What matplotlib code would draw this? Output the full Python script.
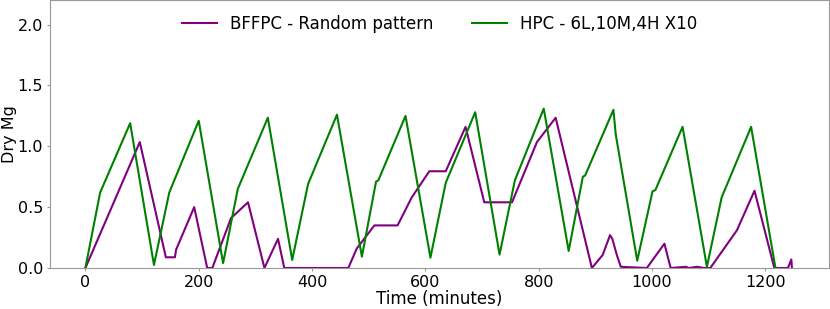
"""Dry Mg over time for BFFPC vs HPC."""

import matplotlib
matplotlib.use("Agg")
import matplotlib.pyplot as plt

# BFFPC - random pattern (time in minutes, dry Mg)
bffpc_t = [0, 96, 142, 158, 160, 192, 215, 224, 257, 287, 316, 340, 351, 464,
           479, 510, 551, 576, 607, 636, 671, 704, 753, 797, 830, 894, 913,
           926, 930, 938, 945, 991, 1022, 1033, 1060, 1065, 1080, 1092, 1103,
           1150, 1181, 1216, 1240, 1246, 1247]
bffpc_y = [0.0, 1.035, 0.088, 0.088, 0.15, 0.50, 0.0, 0.0, 0.41, 0.54, 0.0,
           0.24, 0.0, 0.0, 0.16, 0.35, 0.35, 0.58, 0.795, 0.795, 1.16, 0.54,
           0.54, 1.035, 1.235, 0.0, 0.107, 0.27, 0.24, 0.107, 0.01, 0.0, 0.20,
           0.0, 0.01, 0.0, 0.01, 0.0, 0.0, 0.31, 0.635, 0.0, 0.0, 0.07, 0.0]

# HPC - 6L,10M,4H X10
hpc_t = [0, 26, 79, 121, 148, 200, 243, 269, 322, 365, 393, 444, 488, 513,
         517, 565, 609, 636, 688, 731, 758, 809, 853, 878, 882, 932, 936, 974,
         1001, 1006, 1054, 1097, 1123, 1175, 1218]
hpc_y = [0.0, 0.62, 1.19, 0.025, 0.62, 1.21, 0.04, 0.65, 1.235, 0.066, 0.69,
         1.26, 0.093, 0.71, 0.72, 1.25, 0.085, 0.70, 1.28, 0.11, 0.72, 1.31,
         0.14, 0.75, 0.76, 1.30, 1.10, 0.06, 0.63, 0.64, 1.16, 0.01, 0.58,
         1.16, 0.0]

fig, ax = plt.subplots(figsize=(8.3, 3.09), dpi=100)
ax.plot(bffpc_t, bffpc_y, color="purple", linewidth=1.5,
        label="BFFPC - Random pattern")
ax.plot(hpc_t, hpc_y, color="green", linewidth=1.5,
        label="HPC - 6L,10M,4H X10")

ax.set_xlim(-62.5, 1312.5)
ax.set_ylim(0, 2.2)
ax.set_xticks([0, 200, 400, 600, 800, 1000, 1200])
ax.set_yticks([0.0, 0.5, 1.0, 1.5, 2.0])
ax.set_xlabel("Time (minutes)", fontsize=12, labelpad=0)
ax.set_ylabel("Dry Mg", fontsize=11.5)
ax.yaxis.set_label_coords(-0.042, 0.5)
ax.tick_params(length=2, color="#999999", labelsize=11.5, pad=3)
for s in ax.spines.values():
    s.set_color("#999999")

ax.legend(loc="upper center", ncol=2, frameon=False, fontsize=12,
          handlelength=2.1, columnspacing=2.3, bbox_to_anchor=(0.5, 1.0))

fig.subplots_adjust(left=50 / 830, right=829 / 830, top=0.999,
                    bottom=(309 - 268) / 309)
fig.savefig("out.png", dpi=100)
